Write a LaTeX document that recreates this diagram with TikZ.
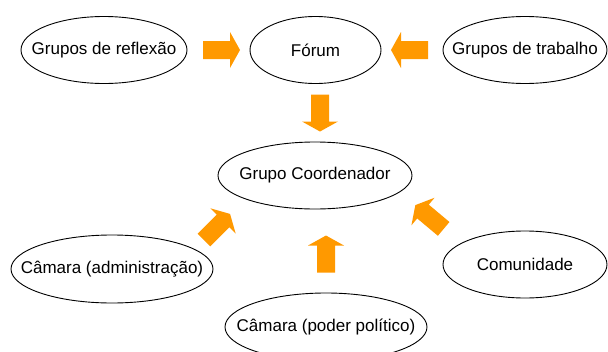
\documentclass[tikz,border=0pt]{standalone}
\usepackage{fontspec}
\setmainfont{Liberation Sans}
\usetikzlibrary{shapes.geometric}
\definecolor{arroworange}{HTML}{FF9900}
\newcommand{\zw}[1]{\makebox[0pt]{#1}}
\tikzset{
  ell/.style={draw=black, line width=0.9pt, ellipse, inner sep=0pt, fill=white,
    font=\fontsize{17}{20}\selectfont},
  barrow/.pic={\fill[arroworange] (-18.5,-9) -- (8.5,-9) -- (8.5,-18) -- (18.5,0)
     -- (8.5,18) -- (8.5,9) -- (-18.5,9) -- cycle;}
}
\begin{document}
\begin{tikzpicture}[x=1pt,y=-1pt]
\useasboundingbox (0,0) rectangle (608,351);
\clip (0,0) rectangle (608,351);
\fill[white] (0,0) rectangle (608,351);
\node[ell, minimum width=166pt, minimum height=67pt] (refl) at (104,50) {\zw{Grupos de reflexão}};
\node[ell, minimum width=131pt, minimum height=67pt] (forum) at (315.5,50) {\zw{Fórum}};
\node[ell, minimum width=164pt, minimum height=67pt] (trab) at (525,50) {\zw{Grupos de trabalho}};
\node[ell, minimum width=194pt, minimum height=67pt] (coord) at (315,175.5) {\zw{Grupo Coordenador}};
\node[ell, minimum width=202pt, minimum height=68pt] (admin) at (112,269) {\zw{Câmara (administração)}};
\node[ell, minimum width=202pt, minimum height=68pt] (poder) at (326,327) {\zw{Câmara (poder político)}};
\node[ell, minimum width=164pt, minimum height=67pt] (comun) at (525,264.5) {\zw{Comunidade}};
\pic at (221.5,50) {barrow};
\pic[rotate=180] at (409.5,50) {barrow};
\pic[rotate=-90] at (320,113) {barrow};
\pic[rotate=90] at (326,254) {barrow};
\pic[rotate=45] at (217,227) {barrow};
\pic[rotate=140] at (429.5,217) {barrow};
\end{tikzpicture}
\end{document}
